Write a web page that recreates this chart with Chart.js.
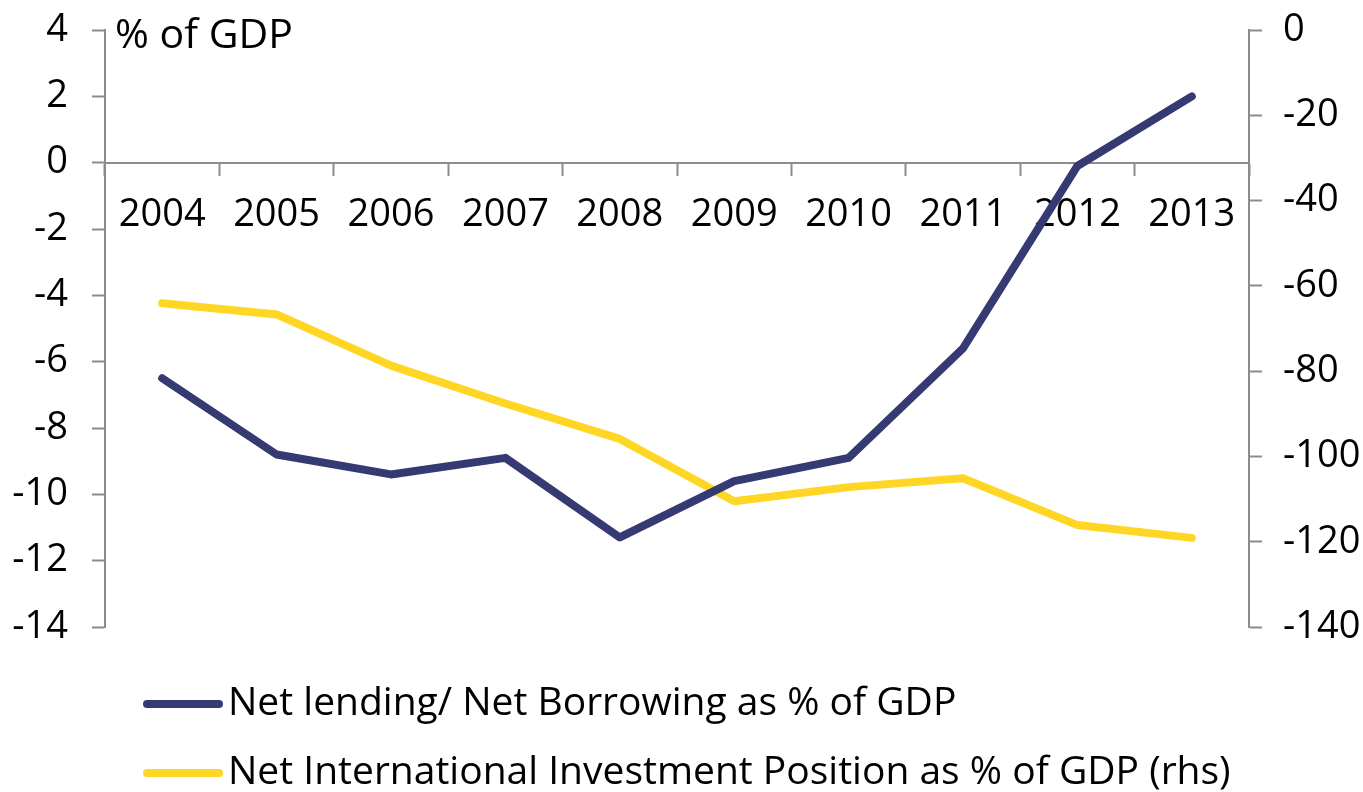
<!DOCTYPE html>
<html>
<head>
<meta charset="utf-8">
<script src="https://cdn.jsdelivr.net/npm/chart.js@4"></script>
<style>
    html, body { margin: 0; padding: 0; background: #ffffff; }
    #wrap { width: 1363px; height: 792px; }
</style>
</head>
<body>
<div id="wrap"><canvas id="balanceChart" width="1363" height="792"></canvas></div>
<script>
// ============================================
// DATA
// ============================================

const years = ['2004', '2005', '2006', '2007', '2008', '2009', '2010', '2011', '2012', '2013'];
const netLending = [-6.5, -8.8, -9.4, -8.9, -11.3, -9.6, -8.9, -5.6, -0.1, 2.0];
const niipShare = [-64.1, -66.7, -78.7, -87.6, -95.9, -110.5, -107.2, -105.1, -116.1, -119.1];
const seriesLabels = [
    'Net lending/ Net Borrowing as % of GDP',
    'Net International Investment Position as % of GDP (rhs)'
];
const unitLabel = '% of GDP';

const FONT_FAMILY = '"Open Sans", "Liberation Sans", sans-serif';
const AXIS_GREY = '#8c8c8c';
const NAVY = '#353b72';
const YELLOW = '#ffd624';

// ============================================
// PLUGINS
// ============================================

// unit label in the top-left corner of the plot
const unitLabelPlugin = {
    id: 'unitLabel',
    afterDraw(chart) {
        const { ctx, chartArea } = chart;
        ctx.save();
        ctx.font = '41px ' + FONT_FAMILY;
        ctx.fillStyle = '#000000';
        ctx.textAlign = 'left';
        ctx.textBaseline = 'middle';
        ctx.fillText(unitLabel, chartArea.left + 10, chartArea.top + 6);
        ctx.restore();
    }
};

// legend: one row per series, left aligned below the plot
const lineLegendPlugin = {
    id: 'lineLegend',
    afterDraw(chart) {
        const { ctx, chartArea } = chart;
        ctx.save();
        ctx.font = '39px ' + FONT_FAMILY;
        ctx.textAlign = 'left';
        ctx.textBaseline = 'middle';
        chart.data.datasets.forEach((ds, i) => {
            const y = chartArea.bottom + 77 + i * 69;
            const x0 = chartArea.left + 42;
            ctx.strokeStyle = ds.borderColor;
            ctx.lineWidth = 8;
            ctx.lineCap = 'round';
            ctx.beginPath();
            ctx.moveTo(x0, y);
            ctx.lineTo(x0 + 72, y);
            ctx.stroke();
            ctx.fillStyle = '#000000';
            ctx.fillText(ds.label, x0 + 81, y);
        });
        ctx.restore();
    }
};

// fixed axis widths; let the layout padding decide the top of the plot
function fitSideAxis(width) {
    return function (scale) {
        scale.width = width;
        scale.paddingTop = 0;
        scale.paddingBottom = 0;
    };
}

// ============================================
// CHART
// ============================================

const ctx = document.getElementById('balanceChart');

new Chart(ctx, {
    type: 'line',
    data: {
        labels: years,
        datasets: [{
            label: seriesLabels[0],
            data: netLending,
            yAxisID: 'y',
            borderColor: NAVY,
            backgroundColor: NAVY,
            borderWidth: 8,
            borderCapStyle: 'round',
            borderJoinStyle: 'round',
            pointRadius: 0,
            tension: 0
        }, {
            label: seriesLabels[1],
            data: niipShare,
            yAxisID: 'y1',
            borderColor: YELLOW,
            backgroundColor: YELLOW,
            borderWidth: 8,
            borderCapStyle: 'round',
            borderJoinStyle: 'round',
            pointRadius: 0,
            tension: 0
        }]
    },
    options: {
        responsive: false,
        animation: false,
        layout: {
            padding: { top: 30, bottom: 165, left: 0, right: 0 }
        },
        plugins: {
            legend: { display: false },
            tooltip: { enabled: false }
        },
        scales: {
            x: {
                type: 'category',
                position: { y: 0 },
                offset: true,
                grid: {
                    offset: true,
                    drawOnChartArea: false,
                    drawTicks: true,
                    tickLength: 12,
                    tickWidth: 2,
                    color: AXIS_GREY
                },
                border: { display: true, color: AXIS_GREY, width: 2 },
                ticks: {
                    color: '#000000',
                    padding: 18,
                    maxRotation: 0,
                    autoSkip: false,
                    font: { family: FONT_FAMILY, size: 38 }
                }
            },
            y: {
                position: 'left',
                min: -14,
                max: 4,
                afterFit: fitSideAxis(105),
                grid: {
                    drawOnChartArea: false,
                    tickLength: 13,
                    tickWidth: 2,
                    color: AXIS_GREY
                },
                border: { display: true, color: AXIS_GREY, width: 2 },
                ticks: {
                    stepSize: 2,
                    color: '#000000',
                    padding: 24,
                    font: { family: FONT_FAMILY, size: 38 }
                }
            },
            y1: {
                position: 'right',
                min: -140,
                max: 0,
                afterFit: fitSideAxis(114),
                grid: {
                    drawOnChartArea: false,
                    tickLength: 13,
                    tickWidth: 2,
                    color: AXIS_GREY
                },
                border: { display: true, color: AXIS_GREY, width: 2 },
                ticks: {
                    stepSize: 20,
                    color: '#000000',
                    padding: 21,
                    font: { family: FONT_FAMILY, size: 38 }
                }
            }
        }
    },
    plugins: [unitLabelPlugin, lineLegendPlugin]
});
</script>
</body>
</html>
